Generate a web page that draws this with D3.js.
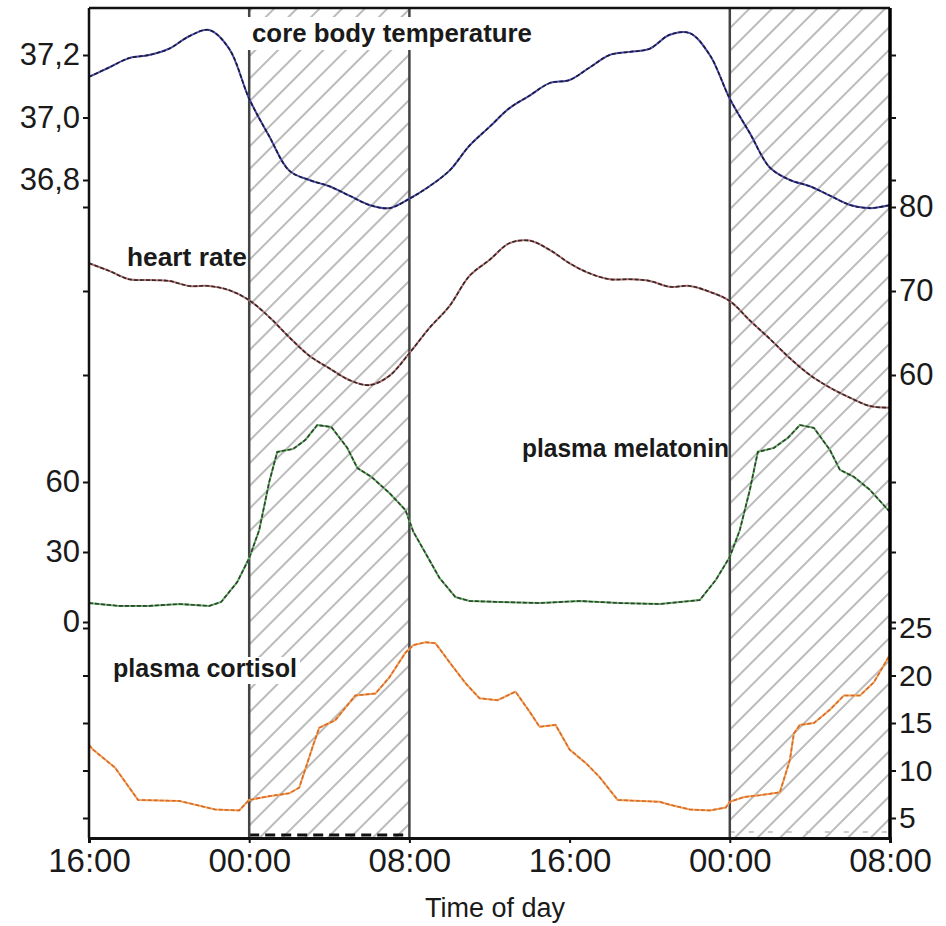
<!DOCTYPE html>
<html>
<head>
<meta charset="utf-8">
<script src="https://cdn.jsdelivr.net/npm/d3@7"></script>
<style>
  body { margin: 0; background: #fff; }
  svg text { font-family: "Liberation Sans", Arial, sans-serif; fill: #1a1a1a; }
</style>
</head>
<body>
<svg id="chart" width="946" height="926"></svg>
<script>
// time in hours after 16:00 of the first day
const timeTicks = [0, 8, 16, 24, 32, 40];
const timeLabels = ["16:00", "00:00", "08:00", "16:00", "00:00", "08:00"];
const nights = [[8, 16], [32, 40]];

// core body temperature (°C), hourly
const tempHours = [0,1,2,3,4,5,6,7,8,9,10,11,12,13,14,15,16,17,18,19,20,21,22,23,24,25,26,27,28,29,30,31,32,33,34,35,36,37,38,39,40];
const tempValues = [37.13,37.16,37.19,37.20,37.22,37.26,37.28,37.22,37.06,36.94,36.83,36.80,36.78,36.75,36.72,36.71,36.74,36.78,36.83,36.91,36.97,37.03,37.07,37.11,37.12,37.16,37.20,37.21,37.22,37.265,37.27,37.20,37.06,36.95,36.84,36.80,36.78,36.75,36.72,36.71,36.72];

// heart rate (bpm), hourly
const hrHours = tempHours;
const hrValues = [73.3,72.4,71.4,71.3,71.2,70.6,70.6,70.1,68.9,66.9,64.5,62.3,60.8,59.4,58.8,59.9,62.6,65.6,68.2,71.8,73.7,75.7,76.0,74.9,73.3,72.1,71.4,71.4,71.2,70.5,70.6,69.9,68.8,66.5,64.3,62.0,60.0,58.5,57.3,56.3,56.1];

// plasma melatonin
const melHours = [0,1.5,3,4.5,6,6.6,7.4,8,8.5,9,9.4,10.2,10.8,11.4,12.1,12.9,13.4,14.1,15,15.8,16.2,16.8,17.5,18.3,19,20.5,22.5,24.5,26.5,28.5,30.5,31.3,32,32.5,33,33.4,34.2,34.9,35.5,36.2,37,37.5,38.2,39,40];
const melValues = [8.1,6.9,6.9,7.7,6.9,8.6,17.1,27.4,39.4,60.0,72.9,74.2,78.0,84.4,83.6,74.6,66.0,62.2,55.3,48.0,38.6,29.6,18.9,10.7,9.0,8.6,8.1,9.0,8.1,7.7,9.4,18.0,27.9,39.4,56.6,72.9,74.6,78.9,84.4,83.2,73.7,65.2,62.2,56.6,47.1];

// plasma cortisol
const cortHours = [0,0.2,1.3,2.45,4.5,6.3,7.5,8,9,10,10.5,11.2,11.5,12.3,13.3,14.3,15,15.8,16.2,16.8,17.3,18,18.8,19.5,20.4,21.3,22,22.5,23.3,24,24.8,25.5,26.4,28.5,29,30,31,31.8,32,32.7,33.5,34.5,35,35.2,35.5,36.2,37,37.7,38.5,39.2,40];
const cortValues = [12.7,12.2,10.3,6.9,6.8,5.9,5.8,6.9,7.3,7.6,8.2,12.7,14.5,15.3,17.9,18.1,19.8,22.4,23.2,23.5,23.4,21.4,19.2,17.6,17.4,18.3,16.2,14.6,14.8,12.2,10.8,9.3,6.9,6.7,6.4,5.9,5.8,6.1,6.7,7.2,7.4,7.7,11.1,13.9,14.8,15.0,16.4,17.9,17.9,19.3,22.2];

const tempTicks = [36.8, 37.0, 37.2];
const hrTicks = [60, 70, 80];
const melTicks = [0, 30, 60];
const cortTicks = [5, 10, 15, 20, 25];

const svg = d3.select("#chart");
const plotLeft = 89, plotRight = 890, plotTop = 8, plotBottom = 838;

const x = d3.scaleLinear().domain([0, 40]).range([plotLeft, plotRight]);
const yTemp = d3.scaleLinear().domain([36.8, 37.2]).range([180, 55]);
const yHr = d3.scaleLinear().domain([60, 80]).range([375, 207]);
const yMel = d3.scaleLinear().domain([0, 60]).range([622, 482]);
const yCort = d3.scaleLinear().domain([5, 25]).range([818, 628]);

// hatch pattern for the night
const pat = svg.append("defs").append("pattern")
  .attr("id", "hatch")
  .attr("patternUnits", "userSpaceOnUse")
  .attr("width", 16).attr("height", 16)
  .attr("patternTransform", "rotate(45)");
pat.append("line")
  .attr("x1", 8).attr("y1", 0).attr("x2", 8).attr("y2", 16)
  .attr("stroke", "#a4a4a4").attr("stroke-width", 1.5);

svg.selectAll("rect.night")
  .data(nights)
  .enter().append("rect")
  .attr("class", "night")
  .attr("x", d => x(d[0]))
  .attr("y", plotTop)
  .attr("width", d => x(d[1]) - x(d[0]))
  .attr("height", plotBottom - plotTop)
  .attr("fill", "url(#hatch)");

// dashed edges of the shaded boxes
svg.append("line")
  .attr("x1", x(8)).attr("x2", x(16)).attr("y1", plotBottom - 3).attr("y2", plotBottom - 3)
  .attr("stroke", "#111").attr("stroke-width", 3).attr("stroke-dasharray", "10,6");
svg.append("line")
  .attr("x1", x(32)).attr("x2", x(40)).attr("y1", plotBottom - 6).attr("y2", plotBottom - 6)
  .attr("stroke", "#bbb").attr("stroke-width", 1.5).attr("stroke-dasharray", "5,14");

// vertical lines at lights off / on
svg.selectAll("line.edge")
  .data([8, 16, 32])
  .enter().append("line")
  .attr("class", "edge")
  .attr("x1", d => x(d)).attr("x2", d => x(d))
  .attr("y1", plotTop).attr("y2", plotBottom)
  .attr("stroke", "#444").attr("stroke-width", 2.5);

// white boxes behind labels that sit on the night area
svg.append("rect")
  .attr("x", 247).attr("y", 17).attr("width", 290).attr("height", 33)
  .attr("fill", "#fff");
svg.append("rect")
  .attr("x", 246).attr("y", 657).attr("width", 54).attr("height", 27)
  .attr("fill", "#fff");

// series
function drawSeries(hours, values, y, base, over, curve) {
  const pts = hours.map((h, i) => [h, values[i]]);
  const line = d3.line().x(d => x(d[0])).y(d => y(d[1])).curve(curve);
  svg.append("path").datum(pts).attr("d", line)
    .attr("fill", "none").attr("stroke", base).attr("stroke-width", 2);
  svg.append("path").datum(pts).attr("d", line)
    .attr("fill", "none").attr("stroke", over).attr("stroke-width", 1.6)
    .attr("stroke-dasharray", "4,2");
}
const smooth = d3.curveCatmullRom.alpha(0.5);
drawSeries(tempHours, tempValues, yTemp, "#4c4cc0", "#1c1c2c", smooth);
drawSeries(hrHours, hrValues, yHr, "#c07070", "#2a2a2a", smooth);
drawSeries(melHours, melValues, yMel, "#5cb85c", "#3a3a3a", d3.curveLinear);
drawSeries(cortHours, cortValues, yCort, "#f2a848", "#d8683a", d3.curveLinear);

// frame
svg.append("line").attr("x1", plotLeft).attr("x2", plotRight).attr("y1", plotTop).attr("y2", plotTop)
  .attr("stroke", "#111").attr("stroke-width", 2.5);
svg.append("line").attr("x1", plotLeft).attr("x2", plotLeft).attr("y1", plotTop).attr("y2", plotBottom)
  .attr("stroke", "#111").attr("stroke-width", 2.5);
svg.append("line").attr("x1", plotRight).attr("x2", plotRight).attr("y1", plotTop).attr("y2", plotBottom)
  .attr("stroke", "#000").attr("stroke-width", 3.5);

const comma = d => d3.format(".1f")(d).replace(".", ",");

function sideAxis(scale, ticks, side, labelled, fmt, size) {
  const ax = (side === "left" ? d3.axisLeft(scale) : d3.axisRight(scale))
    .tickValues(ticks).tickSize(6).tickPadding(3)
    .tickFormat(labelled ? fmt : "");
  const g = svg.append("g")
    .attr("transform", `translate(${side === "left" ? plotLeft : plotRight},0)`)
    .call(ax);
  g.select(".domain").remove();
  g.selectAll("line").attr("stroke", "#111").attr("stroke-width", 2);
  g.selectAll("text").attr("font-size", size).attr("fill", "#1a1a1a")
    .attr("font-family", "Liberation Sans, Arial, sans-serif");
}
sideAxis(yTemp, tempTicks, "left", true, comma, 31);
sideAxis(yHr, hrTicks, "left", false, null, 31);
sideAxis(yMel, melTicks, "left", true, d3.format("d"), 31);
sideAxis(yCort, cortTicks, "left", false, null, 30);
sideAxis(yTemp, tempTicks, "right", false, null, 31);
sideAxis(yHr, hrTicks, "right", true, d3.format("d"), 31);
sideAxis(yMel, melTicks, "right", false, null, 31);
sideAxis(yCort, cortTicks, "right", true, d3.format("d"), 30);

// time axis
const gx = svg.append("g")
  .attr("transform", `translate(0,${plotBottom})`)
  .call(d3.axisBottom(x).tickValues(timeTicks)
    .tickFormat((d, i) => timeLabels[i]).tickSize(5).tickPadding(6));
gx.select(".domain").attr("stroke", "#111").attr("stroke-width", 3);
gx.selectAll("line").attr("stroke", "#111").attr("stroke-width", 2);
gx.selectAll("text").attr("font-size", 33).attr("fill", "#1a1a1a")
  .attr("font-family", "Liberation Sans, Arial, sans-serif");

svg.append("text").attr("x", 495).attr("y", 917).attr("text-anchor", "middle")
  .attr("font-size", 27).attr("fill", "#333").text("Time of day");

// series labels
const labels = [
  { t: "core body temperature", x: 252, y: 42, w: 280 },
  { t: "heart rate", x: 127, y: 266, w: 120 },
  { t: "plasma melatonin", x: 522, y: 457, w: 207 },
  { t: "plasma cortisol", x: 113, y: 677, w: 184 }
];
svg.selectAll("text.lab")
  .data(labels)
  .enter().append("text")
  .attr("class", "lab")
  .attr("x", d => d.x).attr("y", d => d.y)
  .attr("textLength", d => d.w).attr("lengthAdjust", "spacingAndGlyphs")
  .attr("font-size", 25).attr("font-weight", "bold").attr("fill", "#2a2a2a")
  .text(d => d.t);
</script>
</body>
</html>
